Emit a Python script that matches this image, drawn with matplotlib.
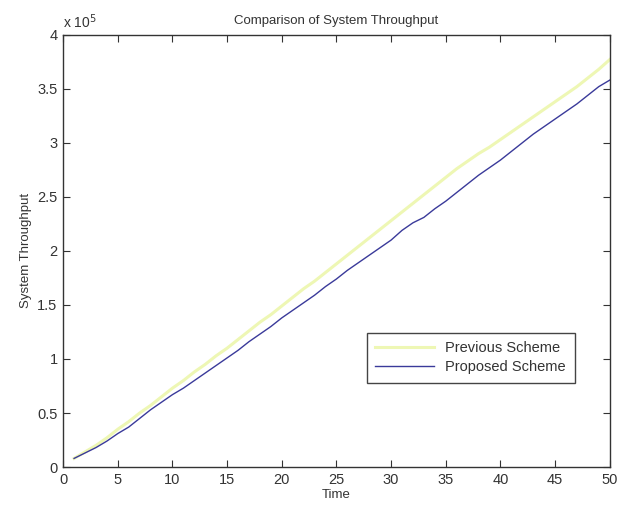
import matplotlib.pyplot as plt
from matplotlib.ticker import FuncFormatter

plt.rcParams['font.family'] = ['Liberation Sans', 'DejaVu Sans']

time = list(range(1, 51))

# throughput values, in units of 1e5
previous = [0.08, 0.14, 0.20, 0.27, 0.35, 0.42, 0.50, 0.57, 0.65, 0.73,
            0.80, 0.88, 0.95, 1.03, 1.10, 1.18, 1.26, 1.34, 1.41, 1.49,
            1.57, 1.65, 1.72, 1.80, 1.88, 1.96, 2.04, 2.12, 2.20, 2.28,
            2.36, 2.44, 2.52, 2.60, 2.68, 2.76, 2.83, 2.90, 2.96, 3.03,
            3.10, 3.17, 3.24, 3.31, 3.38, 3.45, 3.52, 3.60, 3.68, 3.77]
proposed = [0.08, 0.13, 0.18, 0.24, 0.31, 0.37, 0.45, 0.53, 0.60, 0.67,
            0.73, 0.80, 0.87, 0.94, 1.01, 1.08, 1.16, 1.23, 1.30, 1.38,
            1.45, 1.52, 1.59, 1.67, 1.74, 1.82, 1.89, 1.96, 2.03, 2.10,
            2.19, 2.26, 2.31, 2.39, 2.46, 2.54, 2.62, 2.70, 2.77, 2.84,
            2.92, 3.00, 3.08, 3.15, 3.22, 3.29, 3.36, 3.44, 3.52, 3.58]

fig = plt.figure(figsize=(6.19, 5.11), dpi=100)
ax = fig.add_axes([0.102, 0.086, 0.883, 0.846])

ax.plot(time, [v * 1e5 for v in previous], color='#eef7b4', lw=2.2, label='Previous Scheme')
ax.plot(time, [v * 1e5 for v in proposed], color='#3a3a9a', lw=1.0, label='Proposed Scheme')

ax.set_xlim(0, 50)
ax.set_ylim(0, 4e5)
ax.set_xticks(range(0, 51, 5))
ax.set_yticks([i * 0.5e5 for i in range(9)])
ax.yaxis.set_major_formatter(FuncFormatter(lambda v, p: '%g' % (v / 1e5)))
ax.tick_params(direction='in', top=True, right=True, length=5, labelsize=10.5,
               color='#333333', labelcolor='#333333', pad=4)
for s in ax.spines.values():
    s.set_color('#333333')
    s.set_linewidth(1.0)

ax.text(0.0, 1.008, r'x 10$^5$', transform=ax.transAxes, fontsize=10, color='#333333',
        ha='left', va='bottom')
ax.set_title('Comparison of System Throughput', fontsize=9.5, color='#333333', pad=8)
ax.set_xlabel('Time', fontsize=9.5, color='#333333', labelpad=2)
ax.set_ylabel('System Throughput', fontsize=9.5, color='#333333', labelpad=4)

leg = ax.legend(loc='lower right', bbox_to_anchor=(0.936, 0.194), fontsize=10.5,
                fancybox=False, framealpha=1, edgecolor='#444444',
                handlelength=4.0, borderpad=0.6, labelspacing=0.35, borderaxespad=0)
leg.get_frame().set_linewidth(1.0)
for t in leg.get_texts():
    t.set_color('#333333')

fig.savefig('out.png', dpi=100)
